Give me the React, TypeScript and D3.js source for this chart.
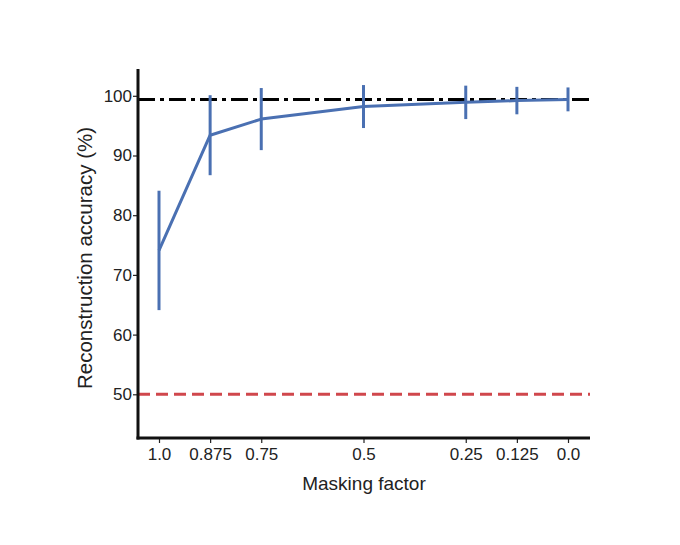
import React, { useEffect, useRef } from "react";
import * as d3 from "d3";

const maskingFactors = [1.0, 0.875, 0.75, 0.5, 0.25, 0.125, 0.0];
const xTickLabels = ["1.0", "0.875", "0.75", "0.5", "0.25", "0.125", "0.0"];
const accuracyMean = [74.1, 93.4, 96.1, 98.2, 98.9, 99.2, 99.4];
const accuracyErr = [10.0, 6.7, 5.2, 3.6, 2.8, 2.3, 2.0];
const yTicks = [50, 60, 70, 80, 90, 100];
const upperReference = 99.4;
const chanceLevel = 50;

const width = 680;
const height = 545;

const App: React.FC = () => {
  const svgRef = useRef<SVGSVGElement | null>(null);

  useEffect(() => {
    const svg = d3.select(svgRef.current);
    svg.selectAll("*").remove();

    const left = 138;
    const right = 590;
    const bottom = 438;
    const top = 69;

    const x = d3.scaleLinear().domain([1, 0]).range([159, 568]);
    const y = d3.scaleLinear().domain([50, 100]).range([394.3, 95.8]);

    const font = "Liberation Sans, Arial, sans-serif";

    // reference lines
    svg
      .append("line")
      .attr("x1", left)
      .attr("x2", right)
      .attr("y1", y(chanceLevel))
      .attr("y2", y(chanceLevel))
      .attr("stroke", "#d0474c")
      .attr("stroke-width", 3)
      .attr("stroke-dasharray", "12 6");

    svg
      .append("line")
      .attr("x1", left)
      .attr("x2", right)
      .attr("y1", y(upperReference))
      .attr("y2", y(upperReference))
      .attr("stroke", "#000")
      .attr("stroke-width", 3)
      .attr("stroke-dasharray", "17 5 4 5");

    const data = maskingFactors.map((m, i) => ({
      m,
      mean: accuracyMean[i],
      err: accuracyErr[i],
    }));

    // error bars
    svg
      .append("g")
      .selectAll("line")
      .data(data)
      .join("line")
      .attr("x1", (d) => x(d.m))
      .attr("x2", (d) => x(d.m))
      .attr("y1", (d) => y(d.mean - d.err))
      .attr("y2", (d) => y(d.mean + d.err))
      .attr("stroke", "#4a70b2")
      .attr("stroke-width", 3);

    // mean line
    const line = d3
      .line<{ m: number; mean: number }>()
      .x((d) => x(d.m))
      .y((d) => y(d.mean));
    svg
      .append("path")
      .datum(data)
      .attr("d", line)
      .attr("fill", "none")
      .attr("stroke", "#4a70b2")
      .attr("stroke-width", 3)
      .attr("stroke-linejoin", "round");

    // Y-axis
    const yAxis = svg
      .append("g")
      .attr("transform", `translate(${left},0)`)
      .call(d3.axisLeft(y).tickValues(yTicks).tickSize(5).tickSizeOuter(0));
    yAxis.select(".domain").remove();
    yAxis.selectAll(".tick line").attr("stroke", "#222").attr("stroke-width", 1.2);
    yAxis
      .selectAll(".tick text")
      .attr("font-family", font)
      .attr("font-size", 17)
      .attr("fill", "#222")
      .attr("x", -6);
    svg
      .append("line")
      .attr("x1", left)
      .attr("x2", left)
      .attr("y1", top)
      .attr("y2", bottom + 1.5)
      .attr("stroke", "#111")
      .attr("stroke-width", 3);

    // X-axis
    const xAxis = svg
      .append("g")
      .attr("transform", `translate(0,${bottom})`)
      .call(
        d3
          .axisBottom(x)
          .tickValues(maskingFactors)
          .tickFormat((_, i) => xTickLabels[i])
          .tickSize(5)
          .tickSizeOuter(0)
      );
    xAxis.select(".domain").remove();
    xAxis.selectAll(".tick line").attr("stroke", "#222").attr("stroke-width", 1.2);
    xAxis
      .selectAll(".tick text")
      .attr("font-family", font)
      .attr("font-size", 17)
      .attr("fill", "#222")
      .attr("y", 10);
    svg
      .append("line")
      .attr("x1", left - 1.5)
      .attr("x2", right)
      .attr("y1", bottom)
      .attr("y2", bottom)
      .attr("stroke", "#111")
      .attr("stroke-width", 3);

    // axis labels
    svg
      .append("text")
      .attr("x", 364)
      .attr("y", 490)
      .attr("text-anchor", "middle")
      .attr("font-family", font)
      .attr("font-size", 19)
      .attr("fill", "#222")
      .text("Masking factor");

    svg
      .append("text")
      .attr("transform", `translate(92,258) rotate(-90)`)
      .attr("text-anchor", "middle")
      .attr("font-family", font)
      .attr("font-size", 20.5)
      .attr("fill", "#222")
      .text("Reconstruction accuracy (%)");
  }, []);

  return (
    <svg
      ref={svgRef}
      width={width}
      height={height}
      style={{ position: "absolute", left: 0, top: 0, background: "#fff" }}
    />
  );
};

export default App;
